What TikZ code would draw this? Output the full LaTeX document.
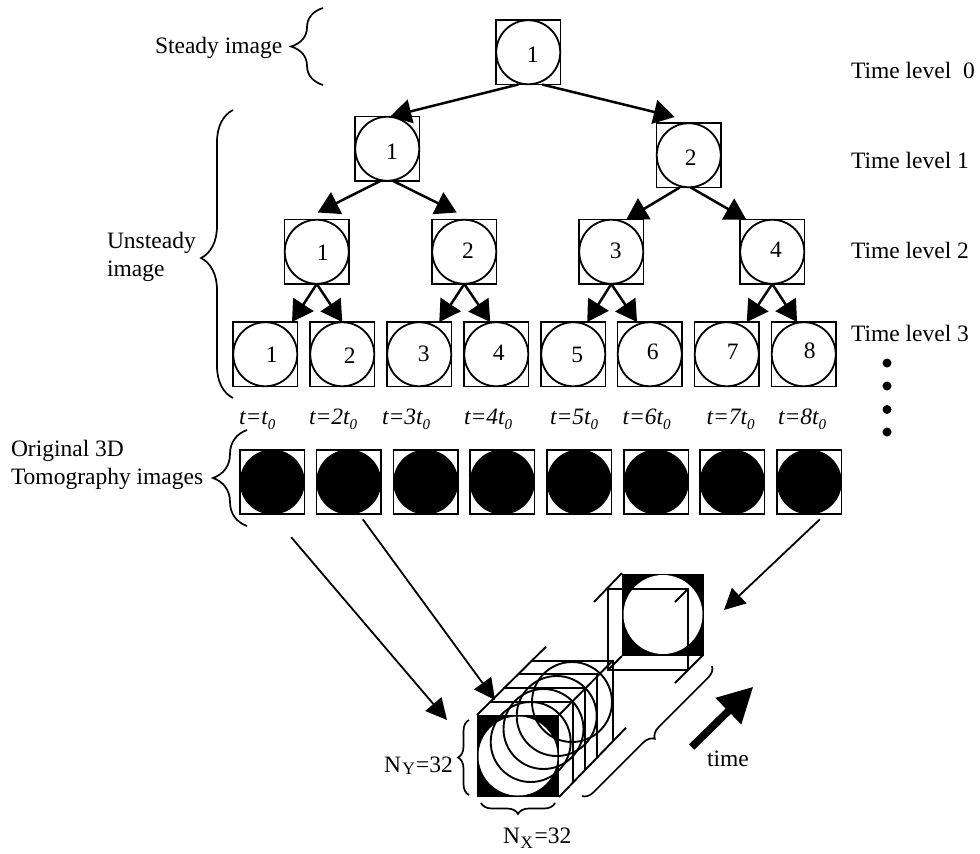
\documentclass[tikz,border=0pt]{standalone}
\usepackage{fontspec}
\setmainfont{Liberation Serif}
\usetikzlibrary{arrows.meta,decorations.pathreplacing,shapes.geometric}
\newcommand{\sbs}[2][-0.22em]{\raisebox{#1}{\fontsize{15}{15}\selectfont #2}}
\newcommand{\dimsub}[2]{\raisebox{#1}{\fontsize{17.5}{17.5}\selectfont #2}}
\tikzset{
  sq/.style={draw=black,line width=1.8pt,rectangle,minimum size=64.5pt,inner sep=0pt,outer sep=0pt},
  circ/.style={draw=black,line width=1.8pt,circle,minimum size=64pt,inner sep=0pt,outer sep=0pt},
  blackcirc/.style={circle,fill=black,minimum size=65pt,inner sep=0pt,outer sep=0pt},
  lab/.style={inner sep=0pt,outer sep=0pt,font=\fontsize{23.5}{28}\selectfont},
  txt/.style={lab,anchor=base west},
  multi/.style={lab,align=left,anchor=north west},
  tree/.style={line width=2.5pt,-{Triangle[length=21pt,width=24pt]}},
  feed/.style={line width=1.8pt,-{Triangle[length=21pt,width=21pt]}},
  timearrow/.style={line width=7.5pt,-{Triangle[length=35pt,width=35pt]}},
  wire/.style={line width=1.9pt},
  brc/.style={line width=1.7pt,decorate,decoration={brace,amplitude=#1}},
  blackbox/.style={rectangle,fill=black,minimum size=82pt,inner sep=0pt,outer sep=0pt},
  whitecirc/.style={circle,fill=white,minimum size=79pt,inner sep=0pt,outer sep=0pt},
  outline/.style={circle,draw=black,line width=1.9pt,minimum size=80pt,inner sep=0pt,outer sep=0pt},
  dotn/.style={circle,fill=black,minimum size=9pt,inner sep=0pt,outer sep=0pt},
}
\newcommand{\treenode}[6]{%
  \node[sq] (#1) at (#2+32.25,#3+32.25) {};
  \node[circ] (#1c) at (#1) {};
  \node[lab] (#1t) at (#4,#5) {#6};
}
\newcommand{\rawnode}[2]{%
  \node[sq] (#1) at (#2+32.25,482) {};
  \node[blackcirc] (#1c) at (#1) {};
}
\begin{document}
\begin{tikzpicture}[x=1pt,y=-1pt]
\useasboundingbox (0,0) rectangle (980,854);
% tree
\treenode{r}{496}{20}{532.7}{55}{1}
\treenode{a}{355}{116.5}{392}{152}{1}
\treenode{b}{656.5}{123}{690.7}{157.7}{2}
\treenode{c}{284.5}{219.5}{322.7}{253}{1}
\treenode{d}{432}{219.5}{468}{251}{2}
\treenode{e}{579}{219.5}{615.7}{250.7}{3}
\treenode{f}{740}{219.5}{776}{250}{4}
\treenode{g}{233}{322}{271.7}{355}{1}
\treenode{h}{310}{322}{349.7}{355.3}{2}
\treenode{i}{387}{322}{423.7}{354}{3}
\treenode{j}{464}{322}{498.7}{352.3}{4}
\treenode{k}{541}{322}{577.3}{355}{5}
\treenode{l}{617.5}{322}{652.7}{352.3}{6}
\treenode{m}{694.5}{322}{732.7}{352.3}{7}
\treenode{n}{771.5}{322}{809.7}{350.7}{8}
% tree connectors
\draw[tree] ([xshift=-10pt]r.south) -- ([xshift=3pt]a.north);
\draw[tree] ([xshift=14pt]r.south) -- ([xshift=-14pt,yshift=6pt]b.north);
\draw[tree] ([xshift=-7pt]a.south) -- ([xshift=1pt,yshift=7pt]c.north);
\draw[tree] ([xshift=6pt]a.south) -- ([xshift=-7.5pt,yshift=7pt]d.north);
\draw[tree] ([xshift=-9pt]b.south) -- ([xshift=15pt]e.north);
\draw[tree] ([xshift=2pt]b.south) -- ([xshift=-26pt]f.north);
\draw[tree] (c.south) -- ([xshift=26.75pt]g.north);
\draw[tree] (c.south) -- (h.north);
\draw[tree] (d.south) -- ([xshift=20pt]i.north);
\draw[tree] (d.south) -- ([xshift=-6pt]j.north);
\draw[tree] (e.south) -- ([xshift=14pt]k.north);
\draw[tree] (e.south) -- ([xshift=-12.7pt]l.north);
\draw[tree] (f.south) -- ([xshift=20pt]m.north);
\draw[tree] (f.south) -- ([xshift=-6.7pt]n.north);
% time level labels
\node[txt] (tl0) at (851,78) {Time level\ \ 0};
\node[txt] (tl1) at (851,168) {Time level 1};
\node[txt] (tl2) at (851,258) {Time level 2};
\node[txt] (tl3) at (851,341) {Time level 3};
\node[dotn] (d1) at (887,363) {};
\node[dotn] (d2) at (887,386) {};
\node[dotn] (d3) at (887,409.5) {};
\node[dotn] (d4) at (887,432) {};
% left labels and braces
\node[txt] (steady) at (155,53) {Steady image};
\node[multi] (unsteady) at (107,232) {Unsteady\\image};
\node[multi] (orig) at (11,440) {Original 3D\\Tomography images};
\draw[brc=32pt] (323,85) -- (323,8);
\draw[brc=32pt,decoration={aspect=0.486}] (233,398) -- (233,110);
\draw[brc=34pt] (247,526) -- (247,430);
% t labels
\node[txt] (t1) at (239,424) {\textit{t=t\sbs{0}}};
\node[txt] (t2) at (309,424) {\textit{t=2t\sbs{0}}};
\node[txt] (t3) at (382,424) {\textit{t=3t\sbs{0}}};
\node[txt] (t4) at (464,424) {\textit{t=4t\sbs{0}}};
\node[txt] (t5) at (550,424) {\textit{t=5t\sbs{0}}};
\node[txt] (t6) at (622.5,424) {\textit{t=6t\sbs{0}}};
\node[txt] (t7) at (706.5,424) {\textit{t=7t\sbs{0}}};
\node[txt] (t8) at (778,424) {\textit{t=8t\sbs{0}}};
% raw images
\rawnode{p}{240}
\rawnode{q}{316.5}
\rawnode{s}{393.5}
\rawnode{u}{470}
\rawnode{v}{547}
\rawnode{w}{624}
\rawnode{x}{700}
\rawnode{y}{777}
% back slice of the stack
\node[blackbox] (back) at (663,614.5) {};
\node[whitecirc] (backc) at (back) {};
\draw[wire] (608,589) rectangle (688,670);
\draw[wire] (594,602) -- (622,573);
\draw[wire] (675,602) -- (688,589);
\draw[wire] (608,670) -- (622,656);
\draw[wire] (675,683) -- (703,655);
% front of the stack
\node[blackbox] (front) at (518,756) {};
\node[whitecirc] (frontc) at (front) {};
\draw[wire] (477,715) -- (546,646.7);
\draw[wire] (559,715) -- (612.7,660.7);
\draw[wire] (559,797) -- (626,727.7);
\draw[wire] (490,701.7) -- (573.3,701.7) -- (573.3,782.5);
\draw[wire] (503.3,688.3) -- (585,688.3) -- (585,770);
\draw[wire] (518.3,674.3) -- (597.3,674.3) -- (597.3,757.5);
\draw[wire] (532.3,660.7) -- (612.7,660.7) -- (612.7,741.5);
\node[outline] (c2) at (530.7,742) {};
\node[outline] (c3) at (543.5,729) {};
\node[outline] (c4) at (556.7,716) {};
\node[outline] (c5) at (572,702) {};
% feeds
\draw[feed] ([xshift=19pt,yshift=-23pt]p.south) -- ([xshift=-30pt,yshift=-5pt]front.north west);
\draw[feed] ([xshift=14pt,yshift=-5pt]q.south) -- ([xshift=18pt,yshift=15pt]front.north west);
\draw[feed] ([xshift=10.7pt,yshift=-5pt]y.south) -- ([xshift=20pt,yshift=4.5pt]back.east);
\coordinate (tstart) at (691.7,747);
\coordinate (tend) at (753.3,686.7);
\draw[timearrow] (tstart) -- (tend);
% dimension labels
\draw[brc=11pt] (469,795) -- (469,720);
\draw[brc=11pt] (555,803) -- (481,803);
\draw[brc=11pt] (712,666) -- (582,796);
\node[txt] (ny) at (384,772) {N\kern1.5pt\dimsub{-0.1em}{Y}\kern1pt=32};
\node[txt] (nx) at (503,843) {N\kern0.5pt\dimsub{-0.25em}{X}\kern1.5pt=32};
\node[txt] (time) at (707,766) {time};
\end{tikzpicture}
\end{document}
